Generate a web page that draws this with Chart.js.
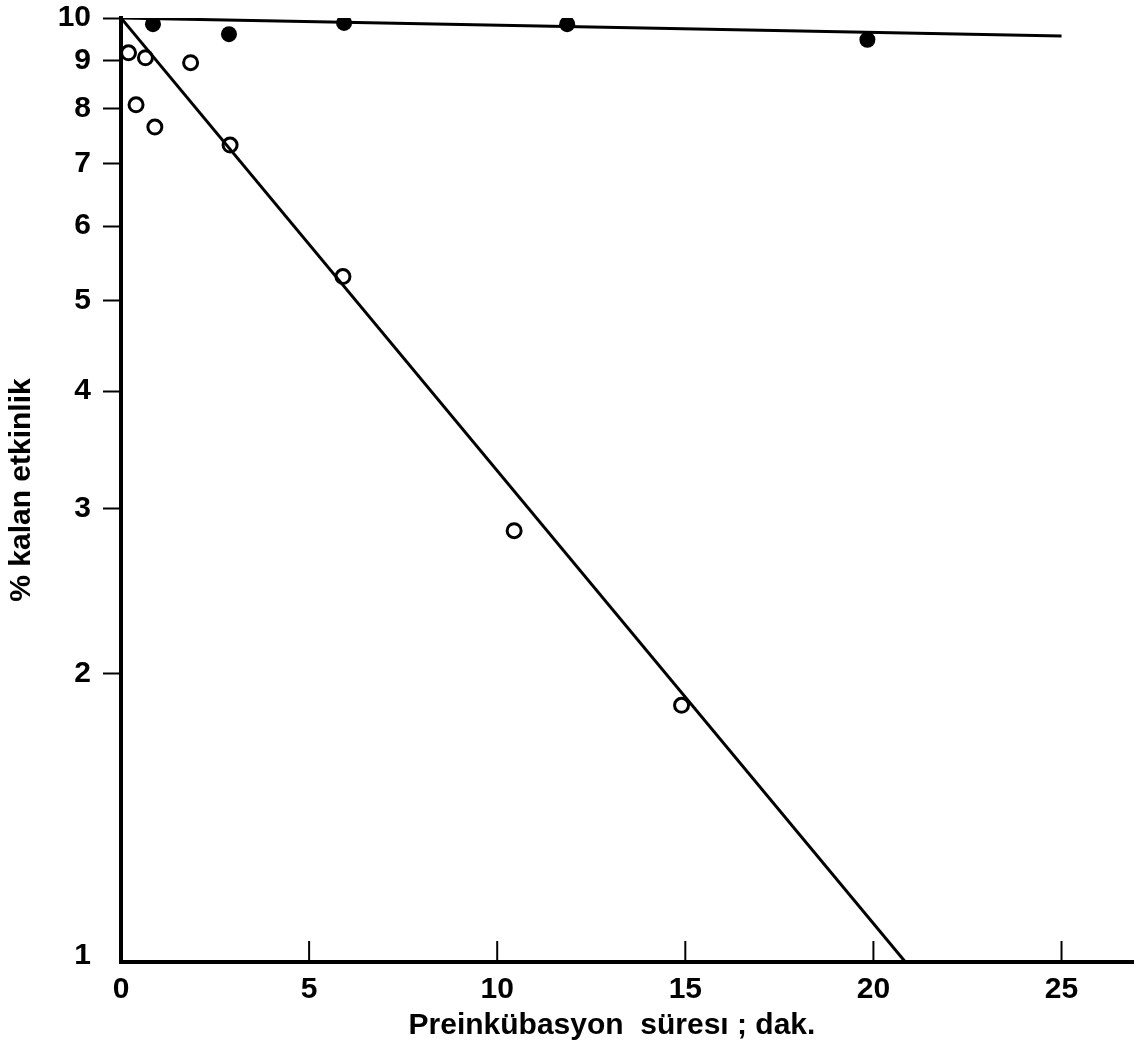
<!DOCTYPE html>
<html>
<head>
<meta charset="utf-8">
<script src="https://cdn.jsdelivr.net/npm/chart.js@4.4.1/dist/chart.umd.min.js"></script>
<style>
  html, body { margin: 0; padding: 0; background: #fff; }
  #wrap { width: 1143px; height: 1061px; }
</style>
</head>
<body>
<div id="wrap"><canvas id="graphCanvas" width="1143" height="1061"></canvas></div>
<script>
// open circles: enzyme without protector
const timeOpen = [0.2, 0.4, 0.65, 0.9, 1.85, 2.9, 5.9, 10.45, 14.9];
const activityOpen = [9.18, 8.08, 9.07, 7.65, 8.96, 7.32, 5.30, 2.84, 1.85];

// filled circles
const timeFilled = [0.85, 2.87, 5.93, 11.86, 19.84];
const activityFilled = [9.85, 9.61, 9.88, 9.85, 9.48];

// straight fits on the semi-log grid
const fitOpenX = [0, 20.85];
const fitOpenY = [10, 0.985];
const fitFilledX = [0, 25];
const fitFilledY = [10, 9.57];

const yTicks = [1, 2, 3, 4, 5, 6, 7, 8, 9, 10];
const xTicks = [0, 5, 10, 15, 20, 25];
const xTitle = 'Preinkübasyon  süresı ; dak.';

const fontFamily = '"Liberation Sans Narrow", "Liberation Sans", Arial, sans-serif';

function toPoints(xs, ys) {
    let pts = [];
    for (let i = 0; i < xs.length; i++) pts.push({x: xs[i], y: ys[i]});
    return pts;
}

// x ticks point up into the plot, and the x title sits a bit left of centre
const axisExtras = {
    id: 'axisExtras',
    afterDraw(chart) {
        let ctx = chart.ctx;
        let xs = chart.scales.x;
        let bottom = chart.chartArea.bottom;
        ctx.save();
        ctx.strokeStyle = '#000';
        ctx.lineWidth = 2;
        xTicks.forEach(v => {
            if (v === 0) return;
            let px = xs.getPixelForValue(v);
            ctx.beginPath();
            ctx.moveTo(px, bottom);
            ctx.lineTo(px, bottom - 21);
            ctx.stroke();
        });
        ctx.fillStyle = '#000';
        ctx.font = 'bold 30px ' + fontFamily;
        ctx.textAlign = 'center';
        ctx.textBaseline = 'middle';
        ctx.fillText(xTitle, xs.getPixelForValue(13.05), bottom + 64);
        ctx.restore();
    }
};

let graphTarget = document.getElementById('graphCanvas');
new Chart(graphTarget, {
    type: 'scatter',
    data: {
        datasets: [
            {
                label: 'fit open',
                type: 'line',
                data: toPoints(fitOpenX, fitOpenY),
                borderColor: '#000',
                borderWidth: 3,
                pointRadius: 0,
                fill: false
            },
            {
                label: 'fit filled',
                type: 'line',
                data: toPoints(fitFilledX, fitFilledY),
                borderColor: '#000',
                borderWidth: 3,
                pointRadius: 0,
                fill: false
            },
            {
                label: 'open',
                data: toPoints(timeOpen, activityOpen),
                pointRadius: 7,
                pointBorderWidth: 3,
                pointBorderColor: '#000',
                pointBackgroundColor: '#fff'
            },
            {
                label: 'filled',
                data: toPoints(timeFilled, activityFilled),
                pointRadius: 8,
                pointBorderWidth: 0,
                pointBorderColor: '#000',
                pointBackgroundColor: '#000'
            }
        ]
    },
    options: {
        responsive: false,
        animation: false,
        layout: { padding: { top: 18, right: 10, left: 0, bottom: 0 } },
        plugins: {
            legend: { display: false },
            tooltip: { enabled: false }
        },
        scales: {
            x: {
                type: 'linear',
                min: 0,
                max: 26.9,
                afterBuildTicks: (scale) => { scale.ticks = xTicks.map(v => ({value: v})); },
                afterFit: (scale) => { scale.height = 99; },
                border: { display: true, width: 4, color: '#000' },
                grid: { display: true, drawOnChartArea: false, drawTicks: false },
                ticks: {
                    color: '#000',
                    padding: 10,
                    maxRotation: 0,
                    font: { family: fontFamily, size: 30, weight: 'bold' }
                },
                title: { display: false }
            },
            y: {
                type: 'logarithmic',
                min: 0.985,
                max: 10,
                afterBuildTicks: (scale) => { scale.ticks = yTicks.map(v => ({value: v})); },
                afterFit: (scale) => {
                    scale.width = 121;
                    scale.paddingTop = 0;
                    scale.paddingBottom = 0;
                },
                border: { display: true, width: 4, color: '#000' },
                grid: {
                    display: true,
                    drawOnChartArea: false,
                    tickLength: 18,
                    tickWidth: 2,
                    tickColor: (c) => (c.tick && c.tick.value === 1) ? 'rgba(0,0,0,0)' : '#000'
                },
                ticks: {
                    color: '#000',
                    padding: 12,
                    callback: (v) => String(v),
                    font: { family: fontFamily, size: 30, weight: 'bold' }
                },
                title: {
                    display: true,
                    text: '% kalan etkinlik',
                    color: '#000',
                    padding: { top: 4, bottom: 0 },
                    font: { family: fontFamily, size: 30, weight: 'bold' }
                }
            }
        }
    },
    plugins: [axisExtras]
});
</script>
</body>
</html>
